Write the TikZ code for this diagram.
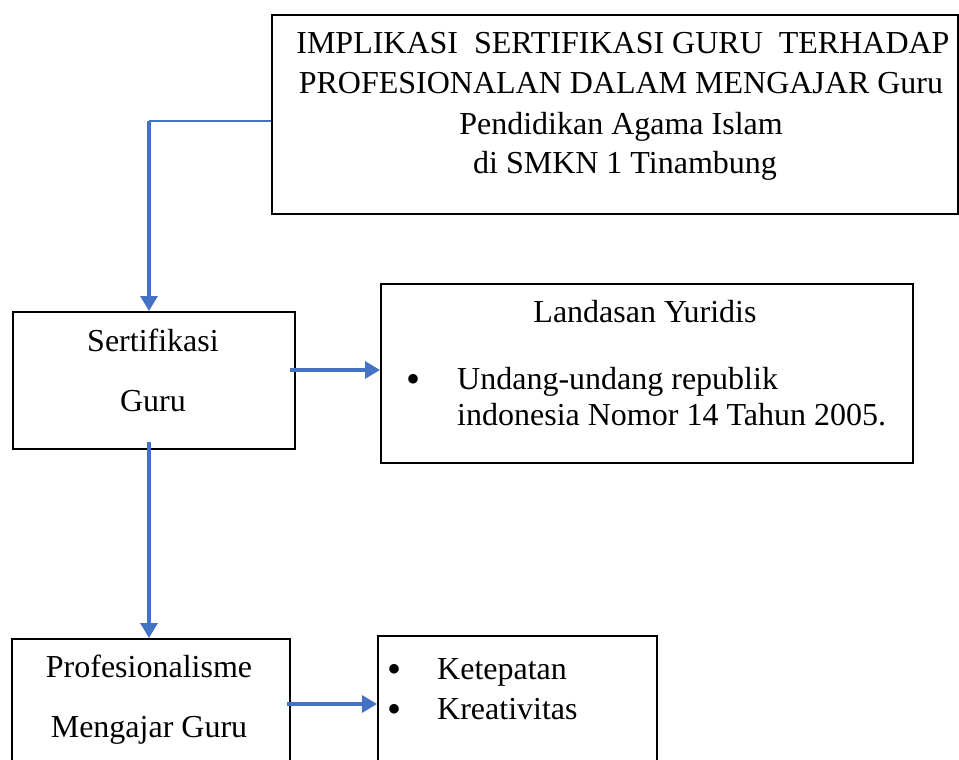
\documentclass[tikz,border=0pt]{standalone}
\usepackage{fontspec}
\setmainfont{Liberation Serif}
\usetikzlibrary{arrows.meta}
\definecolor{garisbiru}{HTML}{4472C4}
\tikzset{
    kotak/.style={draw, line width=1.6pt, anchor=north west, inner sep=0pt},
    teks/.style={anchor=base, inner sep=0pt, font=\fontsize{32}{38}\selectfont},
    titik/.style={anchor=base, inner sep=0pt, font=\fontsize{40}{40}\selectfont},
    panah/.style={garisbiru, line width=3.2pt, -{Triangle[length=15pt,width=17pt]}}
}
\begin{document}
\begin{tikzpicture}[x=1pt,y=-1pt]
        \useasboundingbox (0,0) rectangle (959,760);
        % kotak-kotak
        \node[kotak, minimum width=686pt, minimum height=199pt] (judul) at (271,14) {};
        \node[kotak, minimum width=282pt, minimum height=137pt] (sertifikasi) at (12,311) {};
        \node[kotak, minimum width=532pt, minimum height=179pt] (landasan) at (380,283) {};
        \node[kotak, minimum width=278pt, minimum height=160pt] (profesional) at (11,638) {};
        \node[kotak, minimum width=279pt, minimum height=160pt] (indikator) at (377,635) {};
        % teks
        \node[teks] at (623,54) {IMPLIKASI\ \ SERTIFIKASI GURU\ \ TERHADAP};
        \node[teks] at (621,94) {PROFESIONALAN DALAM MENGAJAR Guru};
        \node[teks] at (621,134) {Pendidikan Agama Islam};
        \node[teks] at (625,173) {di SMKN 1 Tinambung};
        \node[teks] at (153,351) {Sertifikasi};
        \node[teks] at (153,411) {Guru};
        \node[teks] at (645,322) {Landasan Yuridis};
        \node[titik] at (413,392) {\textbullet};
        \node[teks, anchor=base west] at (457,389) {Undang-undang republik};
        \node[teks, anchor=base west] at (457,425) {indonesia Nomor 14 Tahun 2005.};
        \node[teks] at (149,677) {Profesionalisme};
        \node[teks] at (149,737) {Mengajar Guru};
        \node[titik] at (394,682) {\textbullet};
        \node[titik] at (394,722) {\textbullet};
        \node[teks, anchor=base west] at (437,679) {Ketepatan};
        \node[teks, anchor=base west] at (437,719) {Kreativitas};
        % panah
        \coordinate (belok) at (149,121);
        \draw[garisbiru, line width=1.3pt] (judul.west |- belok) -- (belok);
        \draw[panah] (belok) -- (sertifikasi.north -| belok);
        \draw[panah] (290,370) -- (landasan.west |- 0,370);
        \draw[panah] (sertifikasi.south -| belok) ++(0,-8) -- (profesional.north -| belok);
        \draw[panah] (287,704) -- (indikator.west |- 0,704);
\end{tikzpicture}
\end{document}
